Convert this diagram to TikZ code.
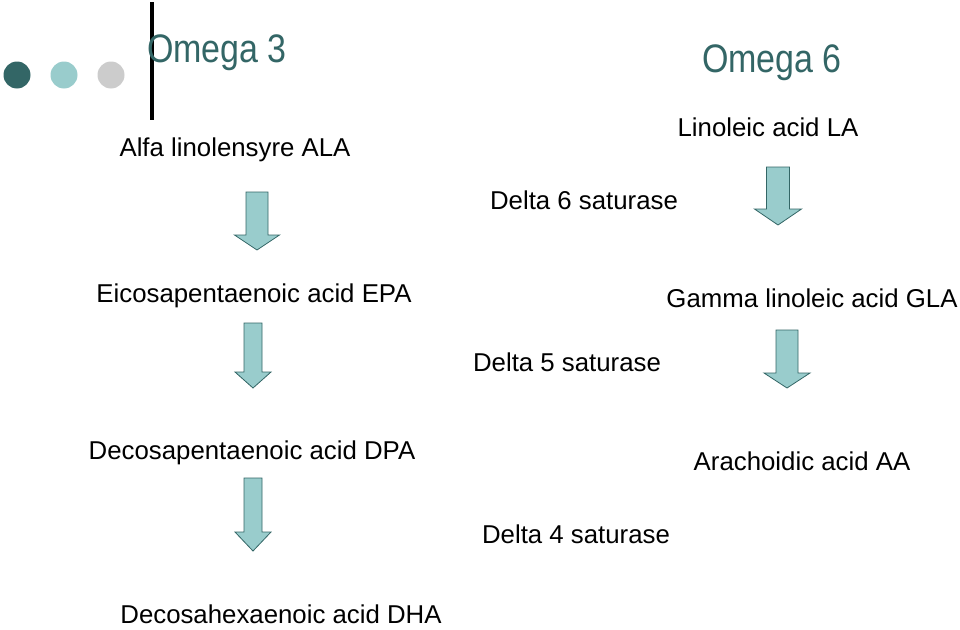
\documentclass[tikz,border=0pt]{standalone}
\usepackage{fontspec}
\usepackage{graphicx}
\setmainfont{Liberation Sans}
\definecolor{darkteal}{HTML}{336666}
\definecolor{lightteal}{HTML}{99CCCC}
\definecolor{lightgray2}{HTML}{CCCCCC}
\tikzset{
  lbl/.style={inner sep=0pt, font=\fontsize{25.8}{30}\selectfont, text=black},
  titlelbl/.style={inner sep=0pt, anchor=base, font=\fontsize{34}{40}\selectfont, text=darkteal},
  dot/.style={circle, minimum size=27pt, inner sep=0pt, draw=none},
  blockarrow/.style={fill=lightteal, draw=darkteal, line width=0.8pt, line join=miter}
}
\newcommand{\blockarr}[6]{% cx, top, shaft half width, head top, head half width, tip
  \draw[blockarrow] (#1-#3,#2) -- (#1+#3,#2) -- (#1+#3,#4) -- (#1+#5,#4) -- (#1,#6) -- (#1-#5,#4) -- (#1-#3,#4) -- cycle;
}
\begin{document}
\begin{tikzpicture}[x=1pt,y=-1pt]
\useasboundingbox[fill=white] (0,0) rectangle (960,629);
% decoration
\node[dot, fill=darkteal] (d1) at (17,75) {};
\node[dot, fill=lightteal] (d2) at (64,75) {};
\node[dot, fill=lightgray2] (d3) at (111,75) {};
\draw[line width=4pt] (152,2) -- (152,120);
% titles
\node[titlelbl] (o3) at (217,62) {\scalebox{1}[1.17]{Omega 3}};
\node[titlelbl] (o6) at (772,72) {\scalebox{1}[1.17]{Omega 6}};
% labels
\node[lbl] (ala) at (235,150) {Alfa linolensyre ALA};
\node[lbl] (la) at (768,127) {Linoleic acid LA};
\node[lbl] (d6) at (584,200) {Delta 6 saturase};
\node[lbl] (epa) at (254,296) {Eicosapentaenoic acid EPA};
\node[lbl] (gla) at (812,298) {Gamma linoleic acid GLA};
\node[lbl] (d5) at (567,362) {Delta 5 saturase};
\node[lbl] (dpa) at (252,453) {Decosapentaenoic acid DPA};
\node[lbl] (aa) at (802,461) {Arachoidic acid AA};
\node[lbl] (d4) at (576,534) {Delta 4 saturase};
\node[lbl] (dha) at (281,614) {Decosahexaenoic acid DHA};
% block arrows
\blockarr{257}{192}{11}{235}{22.5}{250}
\blockarr{253}{323}{9}{372}{18}{388}
\blockarr{253}{478}{9}{532}{18}{551}
\blockarr{778}{167}{11.5}{209}{23.5}{225}
\blockarr{787}{330}{11}{373}{23}{388}
\end{tikzpicture}
\end{document}
